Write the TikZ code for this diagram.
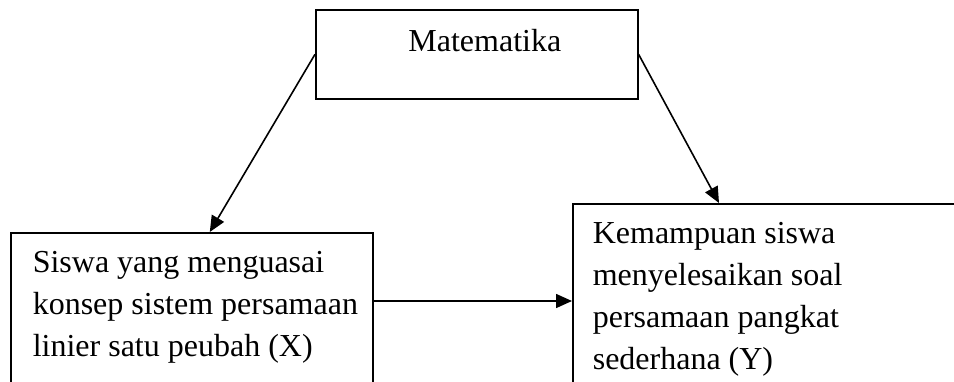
\documentclass[tikz,border=0pt]{standalone}
\usepackage{fontspec}
\setmainfont{Liberation Serif}
\usetikzlibrary{arrows.meta}

\begin{document}
\begin{tikzpicture}[x = 1pt, y = -1pt, line width = 1.6pt, font = \fontsize{32}{42}\selectfont, every node/.style = { draw, rectangle, inner xsep = 0pt, inner ysep = 19pt, anchor = north west }, link/.style = { -{Triangle[length = 16pt, width = 14pt]} }]
  \useasboundingbox (0, 0) rectangle (954, 381);

  \node (matematika) at (315, 9) {\parbox[c][51pt][t]{322pt}{\centering\hspace*{16pt}Matematika}};
  \node (siswa) at (10, 232) {\parbox[c][160pt][t]{362pt}{\raggedright\leftskip = 22pt Siswa yang menguasai\\ konsep sistem persamaan\\ linier satu peubah (X)}};
  \node (kemampuan) at (572, 203) {\parbox[c][170pt][t]{400pt}{\raggedright\leftskip = 20pt Kemampuan siswa\\ menyelesaikan soal\\ persamaan pangkat\\ sederhana (Y)}};

  \draw [link] (matematika.west) -- ([xshift = 18pt]siswa.north);
  \draw [link] (matematika.east) -- ([xshift = 147pt]kemampuan.north west);
  \draw [link] ([yshift = -69pt]siswa.north east) -- ([yshift = -69pt]siswa.north east -| kemampuan.west);
\end{tikzpicture}
\end{document}
